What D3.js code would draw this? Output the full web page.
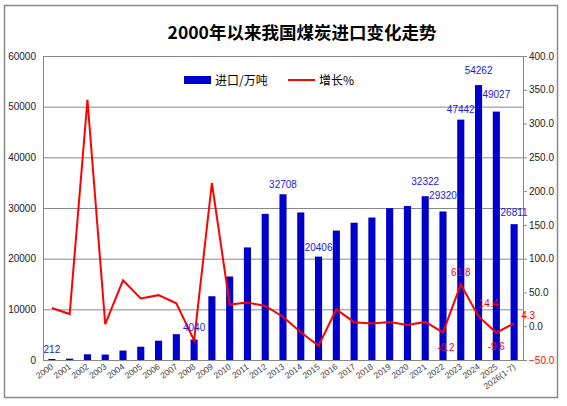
<!DOCTYPE html>
<html>
<head>
<meta charset="utf-8">
<script src="https://cdn.jsdelivr.net/npm/d3@7"></script>
<style>
  body { margin: 0; background: #fff; }
  svg { display: block; }
</style>
</head>
<body>
<svg id="chart" width="567" height="406"></svg>
<script>
// years on the x axis
const years = ["2000", "2001", "2002", "2003", "2004", "2005", "2006", "2007", "2008", "2009",
    "2010", "2011", "2012", "2013", "2014", "2015", "2016", "2017", "2018", "2019",
    "2020", "2021", "2022", "2023", "2024", "2025", "2026(1-7)"];

// coal imports, 10k tonnes
const imports = [212, 266, 1126, 1076, 1861, 2617, 3811, 5102, 4040, 12584,
    16478, 22220, 28841, 32708, 29122, 20406, 25543, 27090, 28123, 29967,
    30399, 32322, 29320, 47442, 54262, 49027, 26811];

// growth, %
const growth = [27, 18, 335, 3, 68, 41, 46, 34, -21, 212,
    32, 35, 30, 14, -9, -29, 25, 6, 4, 6.3,
    2, 6.4, -9.2, 61.8, 14.4, -9.6, 4.3];

const leftTicks = [0, 10000, 20000, 30000, 40000, 50000, 60000];
const rightTicks = [-50, 0, 50, 100, 150, 200, 250, 300, 350, 400];

// which bars / points get a value label
const barLabelYears = ["2000", "2008", "2013", "2015", "2021", "2022", "2023", "2024", "2025", "2026(1-7)"];
const growthLabelYears = ["2022", "2023", "2024", "2025", "2026(1-7)"];

// label placement tweaks (layout only)
const barLift = { "2000": 6, "2008": 9, "2013": 6, "2015": 6, "2021": 11, "2022": 12,
    "2023": 7, "2024": 11, "2025": 14, "2026(1-7)": 8 };
const growthNudge = { "2022": [3, 11], "2023": [0, -8], "2024": [10, -9],
    "2025": [0, 10], "2026(1-7)": [14, -4] };

const svg = d3.select("#chart");
const margin = { left: 43, right: 44, top: 56, bottom: 46 };
const width = 567, height = 406;
const x0 = margin.left, x1 = width - margin.right;
const y0 = height - margin.bottom, y1 = margin.top;

const numFont = "'Liberation Sans', Arial, sans-serif";
const cjkFont = "'Noto Sans CJK SC', sans-serif";

// outer frame
svg.append("rect")
    .attr("x", 4.5).attr("y", 5.5)
    .attr("width", 553).attr("height", 392)
    .attr("fill", "none").attr("stroke", "#888").attr("stroke-width", 1.5);

// title
svg.append("text")
    .attr("x", 302).attr("y", 39)
    .attr("text-anchor", "middle")
    .style("font-family", cjkFont)
    .style("font-weight", "bold")
    .style("font-size", "17.5px")
    .text("2000年以来我国煤炭进口变化走势");

const x = d3.scaleBand().domain(years).range([x0, x1]).paddingInner(0.6).paddingOuter(0.3);
const yL = d3.scaleLinear().domain([0, 60000]).range([y0, y1]);
const yR = d3.scaleLinear().domain([-50, 400]).range([y0, y1]);
const cx = d => x(d) + x.bandwidth() / 2;

// gridlines
svg.append("g").selectAll("line")
    .data(leftTicks)
    .join("line")
    .attr("x1", x0).attr("x2", x1)
    .attr("y1", d => yL(d) + 0.5).attr("y2", d => yL(d) + 0.5)
    .attr("stroke", "#888").attr("stroke-width", 1);

// left axis
const axL = svg.append("g")
    .attr("transform", `translate(${x0},0)`)
    .call(d3.axisLeft(yL).tickValues(leftTicks).tickSize(0).tickPadding(7).tickFormat(d3.format("d")));
axL.select(".domain").attr("stroke", "#888");
axL.selectAll("text").style("font-family", numFont).style("font-size", "10px").attr("fill", "#222");

// right axis
const axR = svg.append("g")
    .attr("transform", `translate(${x1},0)`)
    .call(d3.axisRight(yR).tickValues(rightTicks).tickSize(4).tickPadding(2).tickFormat(d3.format(".1f")));
axR.select(".domain").attr("stroke", "#888");
axR.selectAll("line").attr("stroke", "#888");
axR.selectAll("text").style("font-family", numFont).style("font-size", "10px")
    .attr("fill", d => d < 0 ? "#ff0000" : "#222");

// bottom axis
svg.append("line")
    .attr("x1", x0).attr("x2", x1)
    .attr("y1", y0 + 0.5).attr("y2", y0 + 0.5)
    .attr("stroke", "#888");

svg.append("g").selectAll("text")
    .data(years)
    .join("text")
    .attr("transform", d => `translate(${cx(d) + 2},${y0 + 8}) rotate(-36)`)
    .attr("text-anchor", "end")
    .style("font-family", numFont)
    .style("font-size", "8.5px")
    .attr("fill", "#444")
    .text(d => d);

// bars
svg.append("g").selectAll("rect")
    .data(years)
    .join("rect")
    .attr("x", d => x(d))
    .attr("width", x.bandwidth())
    .attr("y", (d, i) => yL(imports[i]))
    .attr("height", (d, i) => y0 - yL(imports[i]))
    .attr("fill", "#0000cc");

// growth line
const line = d3.line()
    .x((d, i) => cx(years[i]))
    .y(d => yR(d));
svg.append("path")
    .datum(growth)
    .attr("d", line)
    .attr("fill", "none")
    .attr("stroke", "#ff0000")
    .attr("stroke-width", 2)
    .attr("stroke-linejoin", "miter");

// bar value labels
svg.append("g").selectAll("text")
    .data(barLabelYears)
    .join("text")
    .attr("x", d => cx(d))
    .attr("y", d => yL(imports[years.indexOf(d)]) - barLift[d])
    .attr("text-anchor", "middle")
    .style("font-family", numFont)
    .style("font-size", "10px")
    .attr("fill", "#2020e0")
    .text(d => imports[years.indexOf(d)]);

// growth value labels
svg.append("g").selectAll("text")
    .data(growthLabelYears)
    .join("text")
    .attr("x", d => cx(d) + growthNudge[d][0])
    .attr("y", d => yR(growth[years.indexOf(d)]) + growthNudge[d][1])
    .attr("text-anchor", "middle")
    .attr("dominant-baseline", d => growthNudge[d][1] > 0 ? "hanging" : "auto")
    .style("font-family", numFont)
    .style("font-size", "10px")
    .attr("fill", "#ff0000")
    .text(d => growth[years.indexOf(d)].toFixed(1));

// legend
const lg = svg.append("g");
lg.append("rect").attr("x", 184).attr("y", 76).attr("width", 27).attr("height", 8).attr("fill", "#0000cc");
lg.append("text").attr("x", 215).attr("y", 85)
    .style("font-family", cjkFont).style("font-size", "12px").text("进口/万吨");
lg.append("line").attr("x1", 288).attr("x2", 315).attr("y1", 80).attr("y2", 80)
    .attr("stroke", "#ff0000").attr("stroke-width", 2);
lg.append("text").attr("x", 319).attr("y", 85)
    .style("font-family", cjkFont).style("font-size", "12px").text("增长%");
</script>
</body>
</html>
